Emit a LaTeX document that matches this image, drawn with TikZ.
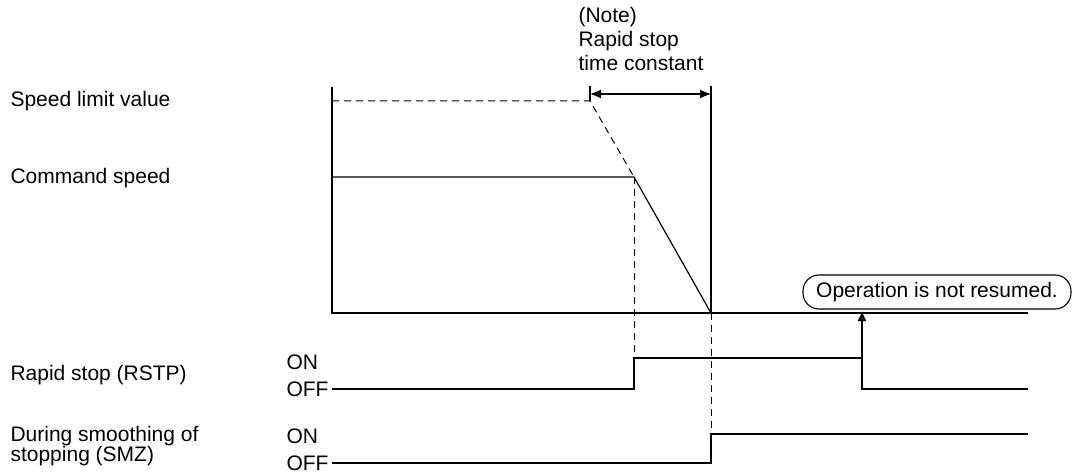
\documentclass[tikz,border=0pt]{standalone}
\usepackage{fontspec}
\setmainfont{Liberation Sans}
\usetikzlibrary{positioning,arrows.meta}

\begin{document}
\begin{tikzpicture}[x=1pt,y=-1pt,line width=1.1pt,
    sig/.style={line width=1.2pt},
    guide/.style={line width=1pt,dash pattern=on 7pt off 5pt}]
    \tikzstyle{every node}=[inner sep=0pt,font=\fontsize{21}{24}\selectfont]
    \useasboundingbox (0,0) rectangle (1073,473);
    % names on the left
    \node[anchor=west] (limit) at (10,101) {Speed limit value};
    \node[anchor=west] (cmd) at (10,178) {Command speed};
    \node[anchor=west] (rstp) at (10,375) {Rapid stop (RSTP)};
    \node[anchor=west,align=left,font=\fontsize{21}{18}\selectfont] (smz) at (10,446) {During smoothing of\\stopping (SMZ)};
    \node[anchor=west] (on1) at (286,362) {ON};
    \node[anchor=west] (off1) at (286,389) {OFF};
    \node[anchor=west] (on2) at (286,436) {ON};
    \node[anchor=west] (off2) at (286,463) {OFF};
    \node[anchor=north west,align=left] (note) at (578,7) {(Note)\\Rapid stop\\time constant};
    \node[draw,rounded corners=16pt,minimum height=34pt,minimum width=268pt] (resume) at (937,292) {Operation is not resumed.};
    % time points
    \coordinate (top) at (332,87);
    \coordinate (org) at (332,313);
    \coordinate (end) at (1028,313);
    \coordinate (lim) at (590,101);
    \coordinate (brk) at (634,177);
    \coordinate (stop) at (711,313);
    \coordinate (tc1) at (590,94);
    \coordinate (tc2) at (711,94);
    \coordinate (rs1) at (634,358);
    \coordinate (rs2) at (862,358);
    \coordinate (sm1) at (711,434);
    % speed
    \draw[sig] (top) -- (org) -- (end);
    \draw[guide] (332,101) -- (lim) -- (brk);
    \draw[sig] (332,177) -- (brk) -- (stop);
    \draw[sig] (590,86) -- (590,101);
    \draw[sig] (711,86) -- (stop);
    \draw[sig,{Latex[length=11pt,width=9pt]}-{Latex[length=11pt,width=9pt]}] (tc1) -- (tc2);
    \draw[guide] (brk) -- (rs1);
    \draw[guide] (stop) -- (sm1);
    % signals
    \draw[sig] (off1.east) ++(3,0) -- (634,389) -- (rs1) -- (rs2) -- (862,389) -- (1028,389);
    \draw[sig,-{Latex[length=10pt,width=9pt]}] (rs2) -- (862,311);
    \draw[sig] (off2.east) ++(3,0) -- (711,463) -- (sm1) -- (1028,434);
\end{tikzpicture}
\end{document}
